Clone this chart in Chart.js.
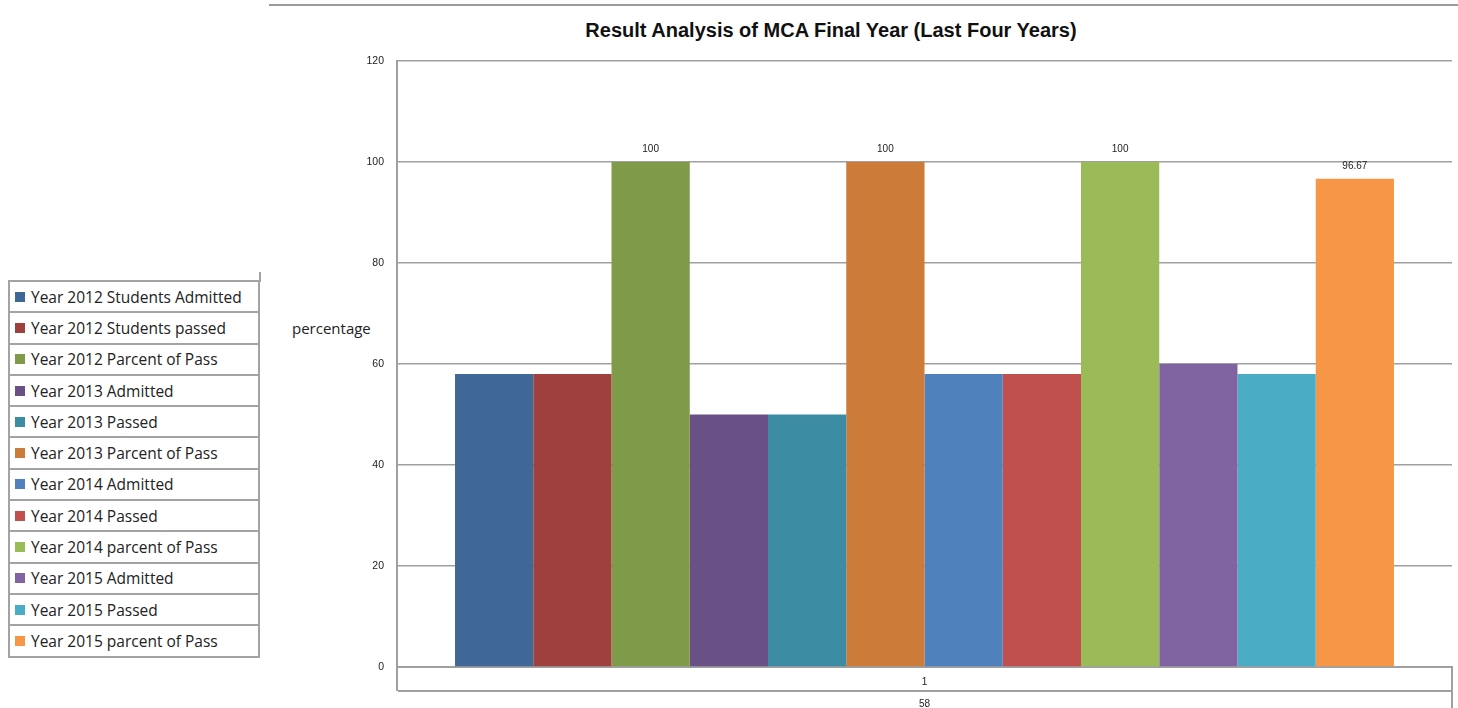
<!DOCTYPE html>
<html>
<head>
<meta charset="utf-8">
<script src="https://cdn.jsdelivr.net/npm/chart.js@4/dist/chart.umd.min.js"></script>
<style>
  body { margin: 0; background: #fff; font-family: "Liberation Sans", Arial, sans-serif; }
  #wrap { position: relative; width: 1458px; height: 708px; overflow: hidden; }
  #chart { position: absolute; left: 0; top: 0; }
  #topline { position: absolute; left: 269px; top: 4px; width: 1189px; height: 2px; background: #9a9a9a; }
  #title { position: absolute; left: 481px; top: 19px; width: 700px; text-align: center;
           font-weight: bold; font-size: 20px; color: #111; }
  #ylabel { position: absolute; left: 292px; top: 318px; font-family: "Open Sans", sans-serif; font-size: 15px; color: #222; }
  #legend { position: absolute; left: 8px; top: 280px; width: 252px; border-collapse: collapse; }
  #legend td { border: 2px solid #a3a3a3; height: 29.3px; padding: 0 0 0 5px; font-family: "Open Sans", sans-serif;
               font-size: 15.5px; color: #222; white-space: nowrap; }
  #legend .sw { display: inline-block; width: 10px; height: 10px; margin-right: 6px; vertical-align: 1px; }
  #legtick { position: absolute; left: 259px; top: 272px; width: 2px; height: 10px; background: #a3a3a3; }
</style>
</head>
<body>
<div id="wrap">
  <div id="topline"></div>
  <div id="title">Result Analysis of MCA Final Year (Last Four Years)</div>
  <div id="ylabel">percentage</div>
  <div id="legtick"></div>
  <table id="legend"></table>
  <canvas id="chart" width="1458" height="708"></canvas>
</div>
<script>
// category (two-level axis label) and series
const categories = [["1", "58"]];
const seriesNames = [
  "Year 2012 Students Admitted",
  "Year 2012 Students passed",
  "Year 2012 Parcent of Pass",
  "Year 2013 Admitted",
  "Year 2013 Passed",
  "Year 2013 Parcent of Pass",
  "Year 2014 Admitted",
  "Year 2014 Passed",
  "Year 2014 parcent of Pass",
  "Year 2015 Admitted",
  "Year 2015 Passed",
  "Year 2015 parcent of Pass"
];
const seriesValues = [58, 58, 100, 50, 50, 100, 58, 58, 100, 60, 58, 96.67];
const showValue = [false, false, true, false, false, true, false, false, true, false, false, true];
const seriesColors = [
  "#3f6797", "#9e413e", "#7f9a48", "#695185", "#3c8da3", "#cc7b38",
  "#4f81bd", "#c0504d", "#9bbb59", "#8064a2", "#4bacc6", "#f79646"
];
const yMin = 0, yMax = 120, yStep = 20;

// legend as a table
const legendEl = document.getElementById("legend");
seriesNames.forEach((name, i) => {
  const tr = document.createElement("tr");
  const td = document.createElement("td");
  const sw = document.createElement("span");
  sw.className = "sw";
  sw.style.background = seriesColors[i];
  td.appendChild(sw);
  td.appendChild(document.createTextNode(name));
  tr.appendChild(td);
  legendEl.appendChild(tr);
});

const gridColor = "#a0a0a0";

// value labels on the percent bars
const valueLabels = {
  id: "valueLabels",
  afterDatasetsDraw(chart) {
    const ctx = chart.ctx;
    ctx.save();
    ctx.font = "10px 'Liberation Sans', Arial, sans-serif";
    ctx.fillStyle = "#222";
    ctx.textAlign = "center";
    ctx.textBaseline = "middle";
    chart.data.datasets.forEach((ds, i) => {
      if (!showValue[i]) return;
      chart.getDatasetMeta(i).data.forEach((bar, j) => {
        ctx.fillText(String(ds.data[j]), bar.x, bar.y - 13);
      });
    });
    ctx.restore();
  }
};

// box lines of the two-level category axis
const axisBox = {
  id: "axisBox",
  afterDraw(chart) {
    const { left, right, bottom } = chart.chartArea;
    const ctx = chart.ctx;
    ctx.save();
    ctx.strokeStyle = gridColor;
    ctx.lineWidth = 2;
    ctx.beginPath();
    ctx.moveTo(left, bottom);
    ctx.lineTo(left, bottom + 24);
    ctx.moveTo(left + 1, bottom + 24);
    ctx.lineTo(right, bottom + 24);
    ctx.moveTo(right, bottom);
    ctx.lineTo(right, chart.height);
    ctx.stroke();
    ctx.restore();
  }
};

new Chart(document.getElementById("chart"), {
  type: "bar",
  data: {
    labels: categories,
    datasets: seriesNames.map((name, i) => ({
      label: name,
      data: [seriesValues[i]],
      backgroundColor: seriesColors[i],
      borderWidth: 0,
      barPercentage: 1,
      categoryPercentage: 0.89
    }))
  },
  options: {
    responsive: false,
    animation: false,
    layout: { padding: { top: 61, right: 6, left: 0, bottom: 0 } },
    plugins: {
      legend: { display: false },
      title: { display: false },
      tooltip: { enabled: false }
    },
    scales: {
      x: {
        afterFit: (scale) => { scale.height = 41; },
        grid: { display: false },
        border: { display: true, color: gridColor, width: 2 },
        ticks: {
          padding: -4,
          color: "#222",
          font: { size: 10, family: "'Liberation Sans', Arial, sans-serif", lineHeight: 2.2 },
          maxRotation: 0
        }
      },
      y: {
        min: yMin,
        max: yMax,
        afterFit: (scale) => { scale.width = 397; },
        grid: { color: gridColor, lineWidth: 1.5, drawTicks: false },
        border: { display: true, color: gridColor, width: 2 },
        ticks: {
          stepSize: yStep,
          padding: 13,
          color: "#222",
          font: { size: 10.5, family: "'Liberation Sans', Arial, sans-serif" }
        }
      }
    }
  },
  plugins: [valueLabels, axisBox]
});
</script>
</body>
</html>
